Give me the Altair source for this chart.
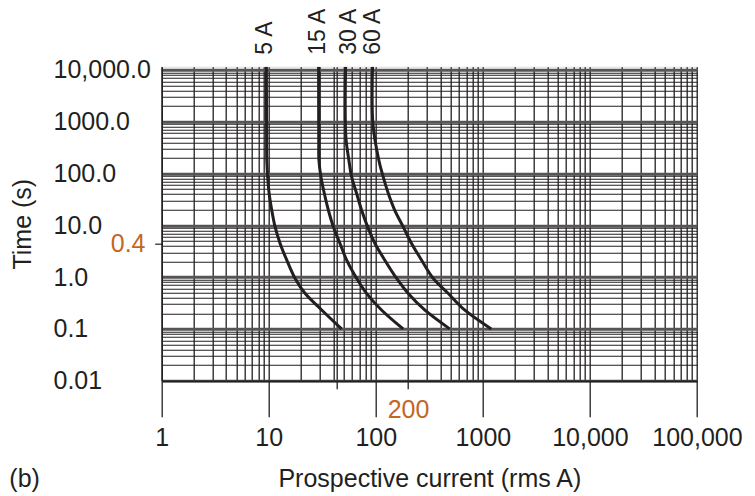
import altair as alt
import pandas as pd

# ---------------- data ----------------
FUSES = ["5 A", "15 A", "30 A", "60 A"]
LABEL_X = [9.2, 28.6, 55.7, 93.2]          # where the rotated fuse labels sit (A)

# prospective current (A) and disconnection time (s) along each fuse curve
I_5A = [9.5, 9.55, 9.58, 10.07, 10.66, 11.45, 12.74, 14.71, 17.58, 21.8, 31.2, 47.9]
T_5A = [11500, 400, 182, 41.5, 19.7, 9.4, 4.5, 2.14, 0.95, 0.486, 0.232, 0.1]

I_15A = [29.2, 29.3, 29.4, 30.7, 33.0, 36.0, 40.1, 46.2, 53.3, 66.1, 81.9, 113, 180]
T_15A = [11500, 400, 182, 86.7, 41.5, 19.7, 9.4, 4.5, 2.14, 0.95, 0.486, 0.232, 0.1]

I_30A = [52.2, 52.5, 56.0, 59.4, 66.1, 73.6, 83.7, 97.9, 121, 156, 200, 286, 490]
T_30A = [11500, 500, 182, 86.7, 41.5, 19.7, 9.4, 4.5, 2.14, 0.95, 0.486, 0.232, 0.1]

I_60A = [93.2, 94.0, 106.6, 117, 130.6, 150, 180, 215, 267, 343, 473, 675, 1197]
T_60A = [11500, 900, 182, 86.7, 41.5, 19.7, 9.4, 4.5, 2.14, 0.95, 0.486, 0.232, 0.1]

Y_DECADES = [0.01, 0.1, 1, 10, 100, 1000, 10000]
Y_LABELS = ["0.01", "0.1", "1.0", "10.0", "100.0", "1000.0", "10,000.0"]
Y_MARK = 4.5          # position of the orange "0.4" marker on the axis
Y_MARK_LABEL = "0.4"

X_DECADES = [1, 10, 100, 1000, 10000, 100000]
X_LABELS = ["1", "10", "100", "1000", "10,000", "100,000"]
X_MARK = 200
X_MARK_LABEL = "200"
X_EXTRA = 43          # extra short tick below the axis

PANEL = ["(b)"]
X_TITLE = "Prospective current (rms A)"
Y_TITLE = "Time (s)"

# ---------------- style ----------------
INK = "#231f20"
ORANGE = "#c4661f"
FONT = "Liberation Sans"
FS = 25

# ---------------- build tables ----------------
rows = []
for name, I, T in zip(FUSES, [I_5A, I_15A, I_30A, I_60A], [T_5A, T_15A, T_30A, T_60A]):
    for k, (i, t) in enumerate(zip(I, T)):
        rows.append({"fuse": name, "current": i, "time": t, "k": k})
curves = pd.DataFrame(rows)

labels_df = pd.DataFrame({"fuse": FUSES, "current": LABEL_X, "time": [11500] * len(FUSES)})
panel_df = pd.DataFrame({"txt": PANEL})

y_values = []
for e in range(-2, 4):
    for m in range(1, 10):
        y_values.append(round(m * 10 ** e, 6))
y_values += [10000, Y_MARK]

x_values = []
for e in range(0, 5):
    for m in range(1, 10):
        x_values.append(round(m * 10 ** e, 6))
x_values += [100000, X_EXTRA]


def label_expr(vals, labs):
    s = "''"
    for v, l in reversed(list(zip(vals, labs))):
        s = f"datum.value == {v} ? '{l}' : ({s})"
    return s


def in_list(vals):
    return "indexof([" + ",".join(str(v) for v in vals) + "], datum.value) >= 0"


y_dec = in_list(Y_DECADES)
y_mk = f"datum.value == {Y_MARK}"
x_dec = in_list(X_DECADES)
x_short = f"datum.value == {X_MARK} || datum.value == {X_EXTRA}"

y_axis = alt.Axis(
    values=y_values,
    labelExpr=label_expr(Y_DECADES + [Y_MARK], Y_LABELS + [Y_MARK_LABEL]),
    title=Y_TITLE,
    grid=True,
    gridColor={"condition": {"test": y_dec, "value": "#555555"}, "value": INK},
    gridWidth={"condition": {"test": y_dec, "value": 3}, "value": 1.1},
    gridOpacity={"condition": {"test": y_mk, "value": 0}, "value": 1},
    ticks=True,
    tickSize={"condition": {"test": y_mk, "value": 7}, "value": 0},
    tickColor=INK,
    tickWidth=1.2,
    labelAlign={"condition": {"test": y_mk, "value": "right"}, "value": "left"},
    labelPadding={"condition": {"test": y_mk, "value": 9.7}, "value": 108.7},
    labelColor={"condition": {"test": y_mk, "value": ORANGE}, "value": INK},
    labelBaseline="middle",
    labelFont=FONT,
    labelFontSize=FS,
    labelOverlap=False,
    labelFlush=False,
    labelBound=False,
    domainColor=INK,
    domainWidth=1.5,
    titleFont=FONT,
    titleFontSize=FS,
    titleFontWeight="normal",
    titleColor=INK,
    titlePadding=18,
)

x_axis = alt.Axis(
    values=x_values,
    labelExpr=label_expr(X_DECADES + [X_MARK], X_LABELS + [X_MARK_LABEL]),
    title=X_TITLE,
    grid=True,
    gridColor=INK,
    gridWidth=1.3,
    ticks=True,
    tickSize={"condition": {"test": x_dec, "value": 36}, "value": 8},
    tickOpacity={"condition": {"test": x_dec + " || " + x_short, "value": 1}, "value": 0},
    tickColor=INK,
    tickWidth=1.3,
    labelPadding=9,
    labelColor={"condition": {"test": f"datum.value == {X_MARK}", "value": ORANGE}, "value": INK},
    labelFont=FONT,
    labelFontSize=FS,
    labelOverlap=False,
    labelFlush=False,
    labelBound=False,
    domainColor=INK,
    domainWidth=1.5,
    titleFont=FONT,
    titleFontSize=FS,
    titleFontWeight="normal",
    titleColor=INK,
    titlePadding=16,
)

x_enc = alt.X("current:Q", scale=alt.Scale(type="log", domain=[1, 100000], nice=False), axis=x_axis)
y_enc = alt.Y("time:Q", scale=alt.Scale(type="log", domain=[0.01, 11500], nice=False), axis=y_axis)

lines = alt.Chart(curves).mark_line(
    color=INK, strokeWidth=3, interpolate="catmull-rom", clip=True
).encode(x=x_enc, y=y_enc, detail="fuse:N", order="k:Q")

fuse_text = alt.Chart(labels_df).mark_text(
    angle=270, align="left", baseline="middle", dx=12,
    font=FONT, fontSize=23, color=INK
).encode(x=x_enc, y=y_enc, text="fuse:N")

panel = alt.Chart(panel_df).mark_text(
    align="left", baseline="alphabetic", font=FONT, fontSize=FS, color=INK
).encode(x=alt.value(-152.4), y=alt.value(419.8), text="txt:N")

chart = alt.layer(lines, fuse_text, panel).properties(
    width=535.3,
    height=314,
    autosize=alt.AutoSizeParams(type="none"),
    padding={"left": 153.7, "top": 58.7, "right": 50, "bottom": 115.3},
).configure_view(stroke=INK, strokeWidth=1.5).configure(background="white")

chart.save("out.html", embed_options={"renderer": "svg", "actions": False})
